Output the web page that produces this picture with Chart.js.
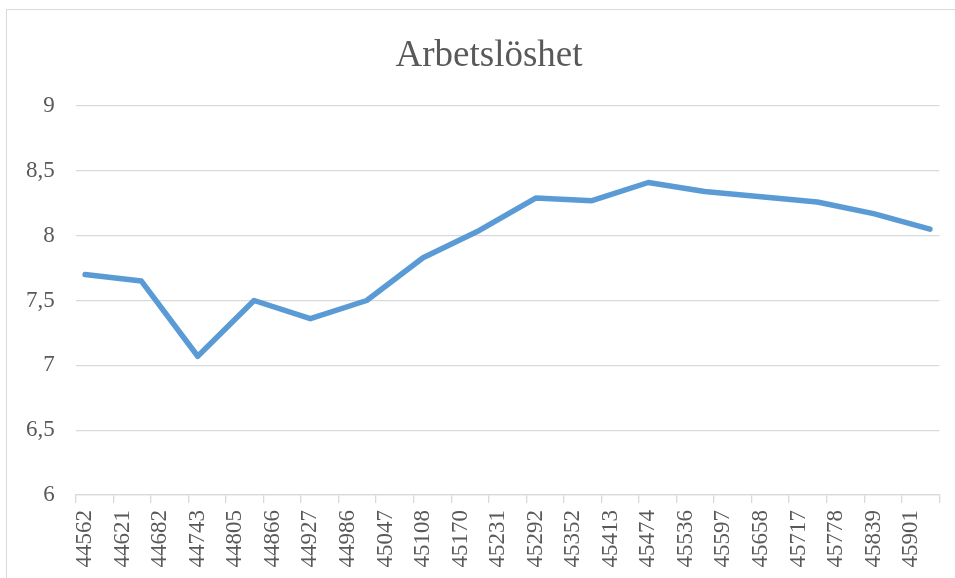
<!DOCTYPE html>
<html>
<head>
<meta charset="utf-8">
<script src="https://cdn.jsdelivr.net/npm/chart.js@4"></script>
<style>
  html, body { margin: 0; padding: 0; background: #fff; overflow: hidden; }
  #box {
    position: absolute; left: 6px; top: 9px;
    border-left: 1px solid #d9d9d9; border-top: 1px solid #d9d9d9;
  }
  canvas { display: block; }
</style>
</head>
<body>
<div id="box"><canvas id="unemploymentChart" width="964" height="568"></canvas></div>
<script>
// months on the axis (Excel serial dates, first day of each month)
const months = [
  '44562', '44593', '44621', '44652', '44682', '44713', '44743', '44774', '44805', '44835', '44866', '44896',
  '44927', '44958', '44986', '45017', '45047', '45078', '45108', '45139', '45170', '45200', '45231', '45261',
  '45292', '45323', '45352', '45383', '45413', '45444', '45474', '45505', '45536', '45566', '45597', '45627',
  '45658', '45689', '45717', '45748', '45778', '45809', '45839', '45870', '45901', '45931'
];
// quarterly observations
const dates = [
  '44562', '44652', '44743', '44835', '44927', '45017', '45108', '45200',
  '45292', '45383', '45474', '45566', '45658', '45748', '45839', '45931'
];
const unemployment = [7.7, 7.65, 7.07, 7.5, 7.36, 7.5, 7.83, 8.04, 8.29, 8.27, 8.41, 8.34, 8.3, 8.26, 8.17, 8.05];
const yTicks = [6, 6.5, 7, 7.5, 8, 8.5, 9];

const serif = '"Liberation Serif", "Times New Roman", serif';
const textGray = '#595959';
const lineGray = '#d9d9d9';

document.addEventListener('DOMContentLoaded', () => {
  const chartCanvas = document.getElementById('unemploymentChart');
  new Chart(chartCanvas, {
    type: 'line',
    data: {
      labels: months,
      datasets: [{
        label: 'Arbetslöshet',
        data: dates.map((d, i) => ({ x: d, y: unemployment[i] })),
        borderColor: '#5b9bd5',
        borderWidth: 5.5,
        borderCapStyle: 'round',
        borderJoinStyle: 'round',
        pointRadius: 0,
        tension: 0
      }]
    },
    options: {
      responsive: false,
      animation: false,
      layout: { padding: 0 },
      plugins: {
        legend: { display: false },
        tooltip: { enabled: false },
        title: {
          display: true,
          text: 'Arbetslöshet',
          color: textGray,
          font: { family: serif, size: 37, weight: 'normal', lineHeight: 1.2 },
          padding: { top: 24, bottom: 27.6 }
        }
      },
      scales: {
        x: {
          type: 'category',
          offset: true,
          border: { display: true, color: lineGray, width: 1.3 },
          grid: {
            offset: true,
            drawOnChartArea: false,
            drawTicks: true,
            tickLength: 8,
            lineWidth: 1.3,
            color: ctx => (ctx.index === undefined || ctx.index % 2 === 0) ? lineGray : 'rgba(0,0,0,0)'
          },
          ticks: {
            autoSkip: false,
            maxRotation: 90,
            minRotation: 90,
            padding: 7,
            color: textGray,
            font: { family: serif, size: 23 },
            callback: function (value, index) {
              return index % 2 === 0 ? this.getLabelForValue(value) : '';
            }
          },
          afterFit: scale => { scale.height = 83; }
        },
        y: {
          min: 6,
          max: 9,
          border: { display: false },
          grid: { color: lineGray, lineWidth: 1.3, drawTicks: false },
          afterBuildTicks: scale => { scale.ticks = yTicks.map(v => ({ value: v })); },
          ticks: {
            padding: 21,
            color: textGray,
            font: { family: serif, size: 23 },
            callback: value => String(value).replace('.', ',')
          },
          afterFit: scale => { scale.width = 68.7; }
        },
        // empty right-hand axis: leaves the right margin while the title stays centred on the box
        yRight: {
          position: 'right',
          min: 6,
          max: 9,
          border: { display: false },
          grid: { display: false, drawTicks: false },
          ticks: { display: false },
          afterFit: scale => { scale.width = 31.7; }
        }
      }
    }
  });
});
</script>
</body>
</html>
